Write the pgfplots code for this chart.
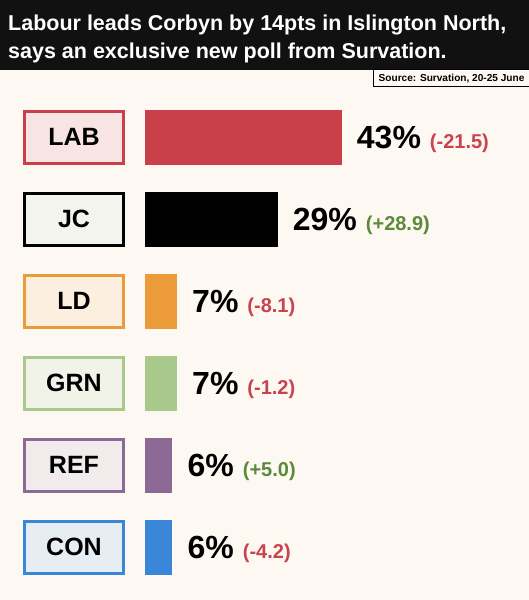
\documentclass[border=0pt]{standalone}
\usepackage{pgfplots}
\pgfplotsset{compat=1.18}
\usepackage{fontspec}
\setmainfont{Liberation Sans}
\definecolor{bg}{HTML}{FDF8F2}
\definecolor{hdr}{HTML}{111111}
\definecolor{cLAB}{HTML}{C9404A}
\definecolor{tLAB}{HTML}{F9E4E4}
\definecolor{cJC}{HTML}{000000}
\definecolor{tJC}{HTML}{F4F4EF}
\definecolor{cLD}{HTML}{EC9B3B}
\definecolor{tLD}{HTML}{FCEFE0}
\definecolor{cGRN}{HTML}{A8C98B}
\definecolor{tGRN}{HTML}{F1F3E8}
\definecolor{cREF}{HTML}{8D6A96}
\definecolor{tREF}{HTML}{F1EBEC}
\definecolor{cCON}{HTML}{3A86D8}
\definecolor{tCON}{HTML}{E6EEF4}
\definecolor{neg}{HTML}{C9434F}
\definecolor{pos}{HTML}{5A8A3A}
\newcommand{\bignum}[1]{{\fontsize{32}{32}\selectfont\bfseries #1}}
\newcommand{\chg}[2]{{\color{#1}\fontsize{20}{20}\selectfont\bfseries #2}}
\tikzset{
  lbl/.style={line width=3pt, minimum width=99pt, minimum height=52pt, inner sep=0, font=\fontsize{25}{25}\selectfont\bfseries, xshift=-71pt},
  val/.style={anchor=base west, inner sep=0, xshift=15pt, yshift=-11pt},
}
\begin{document}
\begin{tikzpicture}[x=1pt,y=1pt]
\fill[bg] (0,0) rectangle (529,600);
\fill[hdr] (0,529.5) rectangle (529,600);
\node[anchor=base west,inner sep=0,text=white,font=\fontsize{21.5}{21.5}\selectfont\bfseries] at (8,569.5) {Labour leads Corbyn by 14pts in Islington North,};
\node[anchor=base west,inner sep=0,text=white,font=\fontsize{21.5}{21.5}\selectfont\bfseries] at (8,541.5) {says an exclusive new poll from Survation.};
\draw[line width=1pt,fill=bg] (373.5,513) rectangle (535,530);
\node[anchor=base west,inner sep=0,font=\fontsize{10.1}{10.1}\selectfont\bfseries] at (378.5,518) {Source: Survation, 20-25 June};
\begin{axis}[
  at={(145pt,12pt)}, anchor=south west,
  scale only axis, width=366pt, height=492pt,
  xmin=0, xmax=80, ymin=-0.5, ymax=5.5, y dir=reverse,
  axis lines=none, clip=false,
  xbar, bar width=55pt, bar shift=0pt,
  every axis plot/.append style={draw=none},
]
\addplot[fill=cLAB] coordinates {(43,0)};
\addplot[fill=cJC] coordinates {(29,1)};
\addplot[fill=cLD] coordinates {(7,2)};
\addplot[fill=cGRN] coordinates {(7,3)};
\addplot[fill=cREF] coordinates {(6,4)};
\addplot[fill=cCON] coordinates {(6,5)};
\node[lbl,draw=cLAB,fill=tLAB] at (axis cs:0,0) {LAB};
\node[lbl,draw=cJC,fill=tJC] at (axis cs:0,1) {JC};
\node[lbl,draw=cLD,fill=tLD] at (axis cs:0,2) {LD};
\node[lbl,draw=cGRN,fill=tGRN] at (axis cs:0,3) {GRN};
\node[lbl,draw=cREF,fill=tREF] at (axis cs:0,4) {REF};
\node[lbl,draw=cCON,fill=tCON] at (axis cs:0,5) {CON};
\node[val] at (axis cs:43,0) {\bignum{43\%}\hspace{9pt}\chg{neg}{(-21.5)}};
\node[val] at (axis cs:29,1) {\bignum{29\%}\hspace{9pt}\chg{pos}{(+28.9)}};
\node[val] at (axis cs:7,2) {\bignum{7\%}\hspace{9pt}\chg{neg}{(-8.1)}};
\node[val] at (axis cs:7,3) {\bignum{7\%}\hspace{9pt}\chg{neg}{(-1.2)}};
\node[val] at (axis cs:6,4) {\bignum{6\%}\hspace{9pt}\chg{pos}{(+5.0)}};
\node[val] at (axis cs:6,5) {\bignum{6\%}\hspace{9pt}\chg{neg}{(-4.2)}};
\end{axis}
\pgfresetboundingbox
\useasboundingbox (0,0) rectangle (529,600);
\end{tikzpicture}
\end{document}
